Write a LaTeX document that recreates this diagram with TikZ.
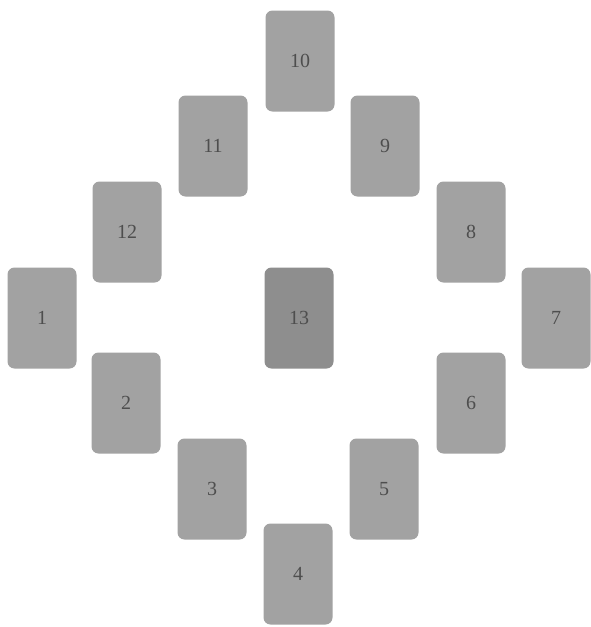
\documentclass[tikz,border=0pt]{standalone}
\usepackage{fontspec}
\setmainfont{Liberation Serif}
\definecolor{cardgray}{HTML}{A2A2A2}
\definecolor{darkcard}{HTML}{8E8E8E}
\definecolor{numgray}{HTML}{4E4E4E}
\begin{document}
\begin{tikzpicture}[x=1pt,y=-1pt,
  card/.style={fill=cardgray, draw=none, rounded corners=7pt,
    minimum width=69pt, minimum height=101pt, inner sep=0pt,
    text=numgray, font=\fontsize{20}{20}\selectfont}]
\useasboundingbox[fill=white] (0,0) rectangle (591,627);
\node[card] (c10) at (300,61) {10};
\node[card] (c11) at (213,146) {11};
\node[card] (c9)  at (385,146) {9};
\node[card] (c12) at (127,232) {12};
\node[card] (c8)  at (471,232) {8};
\node[card] (c1)  at (42,318) {1};
\node[card, fill=darkcard] (c13) at (299,318) {13};
\node[card] (c7)  at (556,318) {7};
\node[card] (c2)  at (126,403) {2};
\node[card] (c6)  at (471,403) {6};
\node[card] (c3)  at (212,489) {3};
\node[card] (c5)  at (384,489) {5};
\node[card] (c4)  at (298,574) {4};
\end{tikzpicture}
\end{document}
